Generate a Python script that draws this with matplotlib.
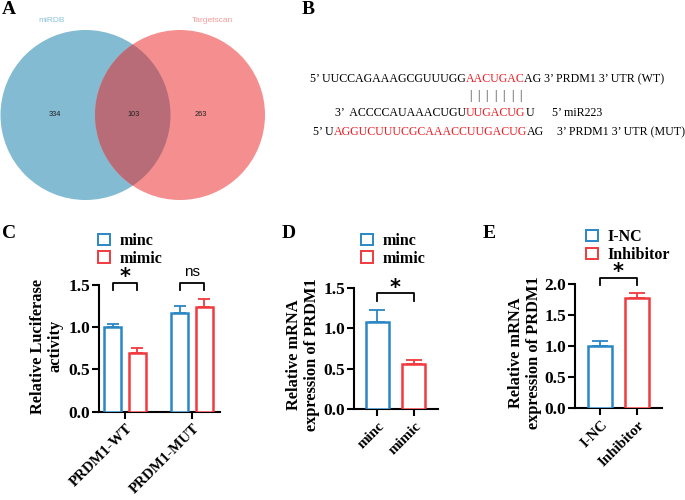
import matplotlib
matplotlib.use("Agg")
import matplotlib.pyplot as plt
from matplotlib.patches import Circle, Rectangle
import matplotlib.transforms as mtrans
import numpy as np

# ---------------- data ----------------
venn_sets = ["miRDB", "Targetscan"]
venn_counts = [334, 103, 263]   # only miRDB, both, only Targetscan

c_groups = ["PRDM1-WT", "PRDM1-MUT"]
c_series = ["minc", "mimic"]
c_minc = [1.00, 1.17]
c_minc_err = [0.035, 0.08]
c_mimic = [0.69, 1.24]
c_mimic_err = [0.07, 0.10]
c_sig = ["*", "ns"]

d_labels = ["minc", "mimic"]
d_values = [1.08, 0.555]
d_err = [0.15, 0.055]
d_sig = "*"

e_labels = ["I-NC", "Inhibitor"]
e_values = [1.00, 1.78]
e_err = [0.08, 0.07]
e_sig = "*"

BLUE = "#2A87C4"
RED = "#F03A3E"
SEQRED = "#ED1C24"
SERIF = "Liberation Serif"
SANS = "Liberation Sans"

W, H = 685, 500
fig = plt.figure(figsize=(W / 100, H / 100), dpi=100)

ov = fig.add_axes([0, 0, 1, 1])
ov.set_xlim(0, W)
ov.set_ylim(H, 0)
ov.axis("off")


def axes_px(x0, x1, ybot, ytop):
    return fig.add_axes([x0 / W, 1 - ybot / H, (x1 - x0) / W, (ybot - ytop) / H])


bold = dict(family=SERIF, weight="bold")

# ---------------- panel labels ----------------
for lab, x, y in [("A", 2, 10), ("B", 302, 10), ("C", 2, 234), ("D", 282, 234), ("E", 483, 234)]:
    ov.text(x, y, lab, ha="left", va="center", fontsize=14, **bold)

# ---------------- A: Venn ----------------
cb = Circle((85.5, 115), 85, facecolor="#83BBD2", edgecolor="none", zorder=1)
cr = Circle((180, 115), 85, facecolor="#F58F8F", edgecolor="none", zorder=2)
ci = Circle((180, 115), 85, facecolor="#B76C78", edgecolor="none", zorder=3)
ov.add_patch(cb)
ov.add_patch(cr)
ov.add_patch(ci)
ci.set_clip_path(Circle((85.5, 115), 85, transform=ov.transData))
ov.text(52, 20, venn_sets[0], ha="center", va="center", fontsize=6, color="#8FC4DB", family=SANS)
ov.text(212, 20, venn_sets[1], ha="center", va="center", fontsize=6, color="#F59A9A", family=SANS)
for x, n in zip([55, 134, 201], venn_counts):
    ov.text(x, 114.5, str(n), ha="center", va="center", fontsize=5.3, color="#222222", family=SANS, zorder=5)

# ---------------- B: sequences ----------------
FS = 8.6


def seq_line(x, y, parts):
    prev = None
    arts = []
    for txt, col in parts:
        if prev is None:
            t = ov.text(x, y, txt, ha="left", va="baseline", fontsize=FS, color=col, family=SERIF)
        else:
            t = ov.annotate(txt, xy=(1, 0), xycoords=prev, ha="left", va="bottom",
                            fontsize=FS, color=col, family=SERIF)
        arts.append(t)
        prev = t
    return arts


l1 = seq_line(310, 82, [("5\u2019 UUCCAGAAAGCGUUUGG", "black"), ("AACUGAC", SEQRED),
                        ("AG 3\u2019 PRDM1 3\u2019 UTR (WT)", "black")])
red_seed = l1[1]
for i in range(7):
    ov.annotate("|", xy=((i + 0.5) / 7, 0), xycoords=red_seed, xytext=(0, -3.5),
                textcoords="offset points", ha="center", va="top", fontsize=FS, color="#333333", family=SERIF)
seq_line(335, 116, [("3\u2019  ACCCCAUAAACUGU", "black"), ("UUGACUG", SEQRED), ("U", "black")])
ov.text(552, 116, "5\u2019 miR223", ha="left", va="baseline", fontsize=FS, family=SERIF)
seq_line(313, 135, [("5\u2019 U", "black"), ("AGGUCUUUCGCAAACCUUGACUG", SEQRED), ("AG", "black")])
ov.text(557, 135, "3\u2019 PRDM1 3\u2019 UTR (MUT)", ha="left", va="baseline", fontsize=FS, family=SERIF)


# ---------------- helpers for bar panels ----------------
def style_axes(ax):
    for s in ["top", "right"]:
        ax.spines[s].set_visible(False)
    for s in ["left", "bottom"]:
        ax.spines[s].set_linewidth(1.5)
    ax.tick_params(axis="both", width=1.5, length=5, pad=1.5)
    for lab in ax.get_yticklabels():
        lab.set_fontproperties(dict(family=SERIF, weight="bold", size=12.5))


def bar_with_err(ax, x, h, err, w, color, capw):
    ax.bar(x, h, width=w, facecolor="white", edgecolor=color, linewidth=1.8, zorder=3)
    ax.errorbar(x, h, yerr=[np.zeros(len(h)), err], fmt="none", ecolor=color,
                elinewidth=1.3, capsize=capw, capthick=1.3, zorder=2)


def bracket(ax, x0, x1, ytop, yleg, txt, ycenter):
    ax.plot([x0, x0, x1, x1], [yleg, ytop, ytop, yleg], color="black", lw=1.3, clip_on=False)
    if txt == "*":
        ax.annotate(txt, xy=((x0 + x1) / 2, ycenter), xytext=(0, -8.0), textcoords="offset points",
                    ha="center", va="baseline", fontsize=15, family="DejaVu Sans", weight="bold",
                    annotation_clip=False)
    else:
        ax.annotate(txt, xy=((x0 + x1) / 2, ycenter), xytext=(0, -2.9), textcoords="offset points",
                    ha="center", va="baseline", fontsize=11, family=SANS, annotation_clip=False)


def legend(x, ys, labels, colors):
    for y, lab, col in zip(ys, labels, colors):
        ov.add_patch(Rectangle((x, y), 12, 11.5, fill=False, edgecolor=col, lw=1.4))
        ov.text(x + 21, y + 11.5, lab, ha="left", va="baseline", fontsize=11.5, **bold)


def xlabels(ax, pos, labels):
    ax.set_xticks(pos)
    ax.set_xticklabels(labels, rotation=45, ha="right", va="top", rotation_mode="anchor",
                       fontsize=10.8, **bold)
    shift = mtrans.ScaledTranslation(1.0 / 100, -1.0 / 100, fig.dpi_scale_trans)
    for lab in ax.get_xticklabels():
        lab.set_transform(lab.get_transform() + shift)


def ylabel(x, y, txt):
    ov.text(x, y, txt, rotation=90, ha="center", va="center", multialignment="center",
            fontsize=11.8, linespacing=1.1, **bold)


# ---------------- C ----------------
axC = axes_px(99, 220, 411.7, 285)
gx = np.arange(len(c_groups))
off = 0.185
bar_with_err(axC, gx - off, c_minc, c_minc_err, 0.25, BLUE, 4.5)
bar_with_err(axC, gx + off, c_mimic, c_mimic_err, 0.25, RED, 4.5)
axC.set_xlim(-0.39, 1.42)
axC.set_ylim(0, 1.5)
axC.set_yticks([0, 0.5, 1.0, 1.5])
axC.set_yticklabels(["0.0", "0.5", "1.0", "1.5"])
style_axes(axC)
xlabels(axC, gx, c_groups)
for g, s in zip(gx, c_sig):
    bracket(axC, g - off, g + off, 1.525, 1.44, s, 1.65)
ylabel(47, 346, "Relative Luciferase\nactivity")
legend(98.5, [233.5, 251.3], c_series, [BLUE, RED])

# ---------------- D ----------------
axD = axes_px(354, 438, 409.3, 287.7)
dx = np.arange(len(d_labels))
bar_with_err(axD, dx[:1], d_values[:1], d_err[:1], 0.63, BLUE, 5.5)
bar_with_err(axD, dx[1:], d_values[1:], d_err[1:], 0.63, RED, 5.5)
axD.set_xlim(-0.63, 1.67)
axD.set_ylim(0, 1.5)
axD.set_yticks([0, 0.5, 1.0, 1.5])
axD.set_yticklabels(["0.0", "0.5", "1.0", "1.5"])
style_axes(axD)
xlabels(axD, dx, d_labels)
bracket(axD, 0, 1, 1.43, 1.34, d_sig, 1.56)
ylabel(303, 355, "Relative mRNA\nexpression of PRDM1")
legend(361.5, [233.5, 251.3], d_labels, [BLUE, RED])

# ---------------- E ----------------
axE = axes_px(575, 661.7, 408.3, 284)
ex = np.arange(len(e_labels))
bar_with_err(axE, ex[:1], e_values[:1], e_err[:1], 0.65, BLUE, 5.5)
bar_with_err(axE, ex[1:], e_values[1:], e_err[1:], 0.65, RED, 5.5)
axE.set_xlim(-0.68, 1.67)
axE.set_ylim(0, 2.0)
axE.set_yticks([0, 0.5, 1.0, 1.5, 2.0])
axE.set_yticklabels(["0.0", "0.5", "1.0", "1.5", "2.0"])
style_axes(axE)
xlabels(axE, ex, e_labels)
bracket(axE, 0, 1, 2.10, 1.98, e_sig, 2.277)
ylabel(525, 353, "Relative mRNA\nexpression of PRDM1")
legend(586, [229.5, 247.5], e_labels, [BLUE, RED])

fig.savefig("out.png", dpi=100)
